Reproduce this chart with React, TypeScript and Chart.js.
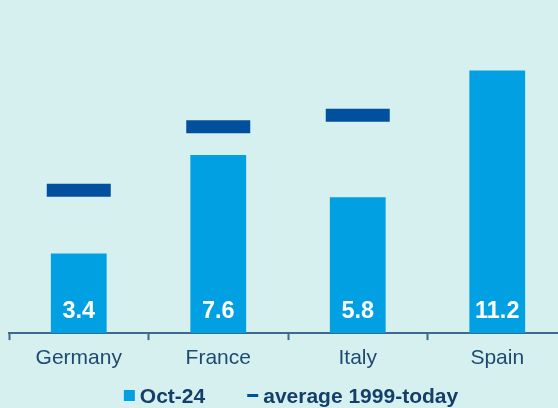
import React, { useEffect, useRef } from "react";
import { Chart, registerables } from "chart.js";

Chart.register(...registerables);

const categories = ["Germany", "France", "Italy", "Spain"];
const oct24 = [3.4, 7.6, 5.8, 11.2];
const average1999 = [6.1, 8.8, 9.3, null];
const legendLabels = ["Oct-24", "average 1999-today"];

const BG = "#D6F0F0";
const BAR = "#00A0E2";
const AVG = "#00509E";
const AXIS = "#3B6A8C";
const TEXT = "#1E4A70";
const LEGEND_TEXT = "#143F6B";
const FONT = '"Liberation Sans", Arial, sans-serif';

const barLabels = {
  id: "barLabels",
  afterDatasetsDraw(chart: any) {
    const ctx = chart.ctx;
    const meta = chart.getDatasetMeta(0);
    const y0 = chart.scales.y.getPixelForValue(0);
    ctx.save();
    ctx.font = `bold 23.5px ${FONT}`;
    ctx.fillStyle = "#FFFFFF";
    ctx.textAlign = "center";
    ctx.textBaseline = "alphabetic";
    meta.data.forEach((el: any, i: number) => {
      ctx.fillText(oct24[i].toFixed(1), el.x, y0 - 15);
    });
    ctx.restore();
  },
};

const customLegend = {
  id: "customLegend",
  afterDraw(chart: any) {
    const ctx = chart.ctx;
    ctx.save();
    ctx.font = `bold 21px ${FONT}`;
    const w1 = ctx.measureText(legendLabels[0]).width;
    const w2 = ctx.measureText(legendLabels[1]).width;
    const box = 11;
    const gapText = 5;
    const gapItem = 42;
    const total = box + gapText + w1 + gapItem + box + gapText + w2;
    const centerX = 291;
    const cy = 395.5;
    let x = centerX - total / 2;
    ctx.fillStyle = BAR;
    ctx.fillRect(x, cy - box / 2, box, box);
    x += box + gapText;
    ctx.fillStyle = LEGEND_TEXT;
    ctx.textBaseline = "alphabetic";
    ctx.textAlign = "left";
    ctx.fillText(legendLabels[0], x, cy + 7.2);
    x += w1 + gapItem;
    ctx.strokeStyle = AVG;
    ctx.lineWidth = 3;
    ctx.beginPath();
    ctx.moveTo(x, cy);
    ctx.lineTo(x + box, cy);
    ctx.stroke();
    x += box + gapText;
    ctx.fillText(legendLabels[1], x, cy + 7.2);
    ctx.restore();
  },
};

export default function App() {
  const ref = useRef<HTMLCanvasElement>(null);

  useEffect(() => {
    if (!ref.current) return;
    const chart = new Chart(ref.current, {
      type: "bar",
      data: {
        labels: categories,
        datasets: [
          {
            type: "bar",
            label: legendLabels[0],
            data: oct24,
            backgroundColor: BAR,
            borderWidth: 0,
            categoryPercentage: 1,
            barPercentage: 0.4,
            order: 2,
          } as any,
          {
            type: "line",
            label: legendLabels[1],
            data: average1999,
            showLine: false,
            borderColor: AVG,
            backgroundColor: AVG,
            borderWidth: 3,
            pointStyle: "line",
            pointRadius: 32,
            pointHoverRadius: 32,
            pointBorderWidth: 13,
            pointBorderColor: AVG,
            clip: false,
            order: 1,
          } as any,
        ],
      },
      options: {
        responsive: false,
        animation: false,
        events: [],
        layout: {
          autoPadding: false,
          padding: { left: 9, right: 33, top: 5, bottom: 31.7 },
        },
        plugins: {
          legend: { display: false },
          tooltip: { enabled: false },
        },
        scales: {
          x: {
            offset: true,
            grid: {
              display: true,
              drawOnChartArea: false,
              drawTicks: true,
              tickLength: 7,
              tickWidth: 2,
              tickColor: AXIS,
              offset: true,
            },
            border: { display: true, color: AXIS, width: 2 },
            ticks: {
              color: TEXT,
              font: { family: FONT, size: 21 },
              padding: 5.5,
              maxRotation: 0,
            },
          },
          y: {
            display: false,
            min: 0,
            max: 14,
          },
        },
      },
      plugins: [barLabels, customLegend],
    });
    return () => chart.destroy();
  }, []);

  return (
    <div
      style={{
        position: "fixed",
        left: 0,
        top: 0,
        width: 558,
        height: 408,
        overflow: "hidden",
        background: BG,
      }}
    >
      <canvas ref={ref} width={600} height={408} style={{ display: "block" }} />
    </div>
  );
}
